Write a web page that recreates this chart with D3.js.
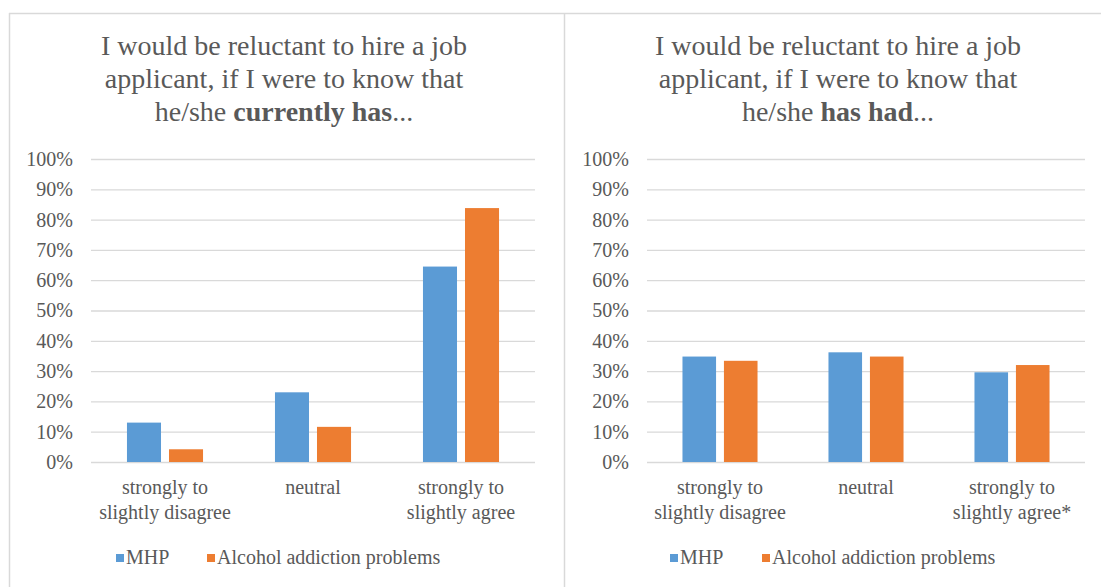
<!DOCTYPE html>
<html>
<head>
<meta charset="utf-8">
<script src="https://cdn.jsdelivr.net/npm/d3@7"></script>
<style>
  body { margin: 0; background: #fff; }
  text, tspan { font-family: 'Liberation Serif'; }
</style>
</head>
<body>
<div id="chart"></div>
<script>
// data
var categoriesLeft = ["strongly to|slightly disagree", "neutral", "strongly to|slightly agree"];
var categoriesRight = ["strongly to|slightly disagree", "neutral", "strongly to|slightly agree*"];
var seriesNames = ["MHP", "Alcohol addiction problems"];
var currentMHP = [0.13, 0.23, 0.645];
var currentAlcohol = [0.042, 0.116, 0.838];
var pastMHP = [0.348, 0.362, 0.296];
var pastAlcohol = [0.334, 0.348, 0.32];
var yTicks = [0, 0.1, 0.2, 0.3, 0.4, 0.5, 0.6, 0.7, 0.8, 0.9, 1];

var w = 1101, h = 587;
var colors = ["#5b9bd5", "#ed7d31"];
var textColor = "#595959";

function txtStyle(size) {
    return "font-family:'Liberation Serif';font-size:" + size + "px";
}

var svg = d3.select("#chart")
    .append("svg")
    .attr("width", w)
    .attr("height", h)
    .attr("font-family", "Liberation Serif");

// panel frames
svg.append("line")
    .attr("x1", 9).attr("x2", w).attr("y1", 13.5).attr("y2", 13.5)
    .attr("stroke", "#d9d9d9").attr("stroke-width", 1.5);
svg.append("line")
    .attr("x1", 9.5).attr("x2", 9.5).attr("y1", 13).attr("y2", h)
    .attr("stroke", "#d9d9d9").attr("stroke-width", 1.5);
svg.append("line")
    .attr("x1", 564.5).attr("x2", 564.5).attr("y1", 13).attr("y2", h)
    .attr("stroke", "#d9d9d9").attr("stroke-width", 1.5);

var y = d3.scaleLinear()
    .domain([0, 1])
    .range([462, 159]);

function drawPanel(opts) {
    var g = svg.append("g");

    // title
    var title = g.append("text")
        .attr("text-anchor", "middle")
        .attr("style", txtStyle(28))
        .attr("fill", textColor);
    title.append("tspan")
        .attr("x", opts.cx).attr("y", 55)
        .text("I would be reluctant to hire a job");
    title.append("tspan")
        .attr("x", opts.cx).attr("y", 88)
        .text("applicant, if I were to know that");
    title.append("tspan")
        .attr("x", opts.cx).attr("y", 121)
        .text("he/she ");
    title.append("tspan").attr("font-weight", "bold").text(opts.bold);
    title.append("tspan").text("...");

    // y axis + gridlines
    var yAxis = d3.axisLeft(y)
        .tickValues(yTicks)
        .tickFormat(d3.format(".0%"))
        .tickSize(-(opts.x1 - opts.x0))
        .tickPadding(18);

    var ax = g.append("g")
        .attr("transform", "translate(" + opts.x0 + ",0)")
        .call(yAxis)
        .attr("font-family", "Liberation Serif");
    ax.select(".domain").remove();
    ax.selectAll(".tick line")
        .attr("stroke", "#d9d9d9")
        .attr("stroke-width", 1.3);
    ax.selectAll(".tick text")
        .attr("style", txtStyle(20))
        .attr("fill", textColor);

    // bars
    var x0 = d3.scaleBand()
        .domain(opts.categories)
        .range([opts.x0, opts.x1])
        .paddingInner(0.486)
        .paddingOuter(0.243);

    var x1 = d3.scaleBand()
        .domain(seriesNames)
        .range([0, x0.bandwidth()])
        .paddingInner(0.19);

    var rows = opts.categories.map(function(c, i) {
        return { cat: c, values: [opts.series[0][i], opts.series[1][i]] };
    });

    var groups = g.selectAll(".grp")
        .data(rows)
        .enter()
        .append("g")
        .attr("class", "grp")
        .attr("transform", function(d) { return "translate(" + x0(d.cat) + ",0)"; });

    groups.selectAll("rect")
        .data(function(d) { return d.values; })
        .enter()
        .append("rect")
        .attr("x", function(d, i) { return x1(seriesNames[i]); })
        .attr("y", function(d) { return y(d); })
        .attr("width", x1.bandwidth())
        .attr("height", function(d) { return y(0) - y(d); })
        .attr("fill", function(d, i) { return colors[i]; });

    // category labels
    var lab = g.selectAll(".cat")
        .data(opts.categories)
        .enter()
        .append("text")
        .attr("class", "cat")
        .attr("text-anchor", "middle")
        .attr("style", txtStyle(20))
        .attr("fill", textColor);
    lab.each(function(d) {
        var parts = d.split("|");
        var t = d3.select(this);
        var cx = x0(d) + x0.bandwidth() / 2;
        parts.forEach(function(p, i) {
            t.append("tspan")
                .attr("x", cx)
                .attr("y", 494 + i * 25)
                .text(p);
        });
    });

    // legend
    var legend = g.append("g")
        .attr("transform", "translate(" + opts.legendX + ",564)");
    legend.append("rect")
        .attr("x", 0).attr("y", -10).attr("width", 8).attr("height", 8)
        .attr("fill", colors[0]);
    legend.append("text")
        .attr("x", 10).attr("y", 0)
        .attr("style", txtStyle(20))
        .attr("fill", textColor)
        .text(seriesNames[0]);
    legend.append("rect")
        .attr("x", opts.legendGap).attr("y", -10).attr("width", 8).attr("height", 8)
        .attr("fill", colors[1]);
    legend.append("text")
        .attr("x", opts.legendGap + 10).attr("y", 0)
        .attr("style", txtStyle(20))
        .attr("fill", textColor)
        .text(seriesNames[1]);
}

drawPanel({
    cx: 284, x0: 91, x1: 535,
    bold: "currently has",
    categories: categoriesLeft,
    series: [currentMHP, currentAlcohol],
    legendX: 116, legendGap: 91
});

drawPanel({
    cx: 838, x0: 647, x1: 1085,
    bold: "has had",
    categories: categoriesRight,
    series: [pastMHP, pastAlcohol],
    legendX: 670, legendGap: 92
});
</script>
</body>
</html>
